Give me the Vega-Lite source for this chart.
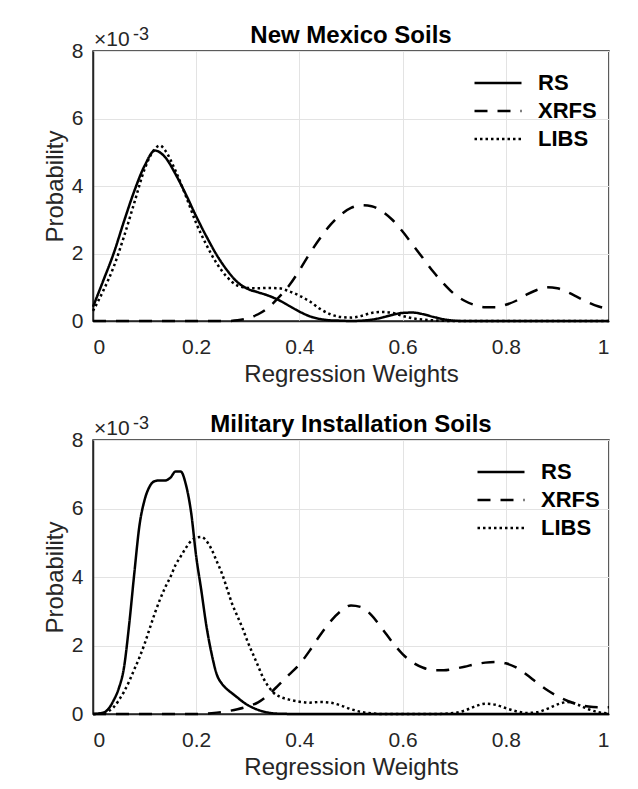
{
  "$schema": "https://vega.github.io/schema/vega-lite/v6.json",
  "background": "white",
  "padding": {"left": 42, "top": 23, "right": 6, "bottom": 4},
  "spacing": 25,
  "config": {
    "font": "Liberation Sans",
    "view": {"stroke": "#262626", "strokeWidth": 1.5},
    "axis": {
      "grid": true,
      "gridColor": "#e3e3e3",
      "gridWidth": 1,
      "ticks": false,
      "domainColor": "#262626",
      "domainWidth": 1.5,
      "labelColor": "#262626",
      "labelFontSize": 21,
      "labelFont": "Liberation Sans",
      "titleColor": "#262626",
      "titleFontSize": 24,
      "titleFontWeight": "normal",
      "titleFont": "Liberation Sans"
    },
    "axisX": {"labelPadding": 15, "titlePadding": 5},
    "axisY": {"labelPadding": 10, "titlePadding": 4},
    "title": {"fontSize": 24, "fontWeight": "bold", "color": "#000000", "frame": "group", "offset": -22, "anchor": "middle"},
    "legend": {
      "orient": "none",
      "title": null,
      "symbolType": "stroke",
      "symbolSize": 2209,
      "symbolStrokeWidth": 2.5,
      "symbolStrokeColor": "#000000",
      "labelFontSize": 22,
      "labelFontWeight": "bold",
      "labelColor": "#000000",
      "labelOffset": 15,
      "clipHeight": 28,
      "rowPadding": 0
    }
  },
  "vconcat": [
    {
      "title": "New Mexico Soils",
      "width": 516,
      "height": 270,
      "layer": [
        {
          "data": {"values": [
            {"w": 0, "p": 0.42, "method": "RS"}, {"w": 0.02, "p": 1.2, "method": "RS"}, {"w": 0.04, "p": 2.0, "method": "RS"},
            {"w": 0.06, "p": 2.95, "method": "RS"}, {"w": 0.08, "p": 3.85, "method": "RS"}, {"w": 0.1, "p": 4.6, "method": "RS"},
            {"w": 0.12, "p": 5.05, "method": "RS"}, {"w": 0.14, "p": 4.85, "method": "RS"}, {"w": 0.16, "p": 4.35, "method": "RS"},
            {"w": 0.18, "p": 3.75, "method": "RS"}, {"w": 0.2, "p": 3.1, "method": "RS"}, {"w": 0.22, "p": 2.5, "method": "RS"},
            {"w": 0.24, "p": 1.95, "method": "RS"}, {"w": 0.26, "p": 1.5, "method": "RS"}, {"w": 0.28, "p": 1.15, "method": "RS"},
            {"w": 0.3, "p": 0.95, "method": "RS"}, {"w": 0.32, "p": 0.85, "method": "RS"}, {"w": 0.34, "p": 0.75, "method": "RS"},
            {"w": 0.36, "p": 0.62, "method": "RS"}, {"w": 0.38, "p": 0.45, "method": "RS"}, {"w": 0.4, "p": 0.28, "method": "RS"},
            {"w": 0.42, "p": 0.14, "method": "RS"}, {"w": 0.44, "p": 0.06, "method": "RS"}, {"w": 0.46, "p": 0.02, "method": "RS"},
            {"w": 0.48, "p": 0.01, "method": "RS"}, {"w": 0.5, "p": 0.0, "method": "RS"}, {"w": 0.52, "p": 0.01, "method": "RS"},
            {"w": 0.54, "p": 0.04, "method": "RS"}, {"w": 0.56, "p": 0.1, "method": "RS"}, {"w": 0.58, "p": 0.18, "method": "RS"},
            {"w": 0.6, "p": 0.24, "method": "RS"}, {"w": 0.62, "p": 0.25, "method": "RS"}, {"w": 0.64, "p": 0.2, "method": "RS"},
            {"w": 0.66, "p": 0.12, "method": "RS"}, {"w": 0.68, "p": 0.05, "method": "RS"}, {"w": 0.7, "p": 0.01, "method": "RS"},
            {"w": 0.72, "p": 0, "method": "RS"}, {"w": 0.8, "p": 0, "method": "RS"}, {"w": 0.9, "p": 0, "method": "RS"}, {"w": 1, "p": 0, "method": "RS"},

            {"w": 0, "p": 0, "method": "XRFS"}, {"w": 0.1, "p": 0, "method": "XRFS"}, {"w": 0.2, "p": 0, "method": "XRFS"},
            {"w": 0.26, "p": 0, "method": "XRFS"}, {"w": 0.28, "p": 0.02, "method": "XRFS"}, {"w": 0.3, "p": 0.08, "method": "XRFS"},
            {"w": 0.32, "p": 0.2, "method": "XRFS"}, {"w": 0.34, "p": 0.4, "method": "XRFS"}, {"w": 0.36, "p": 0.7, "method": "XRFS"},
            {"w": 0.38, "p": 1.05, "method": "XRFS"}, {"w": 0.4, "p": 1.5, "method": "XRFS"}, {"w": 0.42, "p": 2.0, "method": "XRFS"},
            {"w": 0.44, "p": 2.45, "method": "XRFS"}, {"w": 0.46, "p": 2.85, "method": "XRFS"}, {"w": 0.48, "p": 3.15, "method": "XRFS"},
            {"w": 0.5, "p": 3.35, "method": "XRFS"}, {"w": 0.52, "p": 3.43, "method": "XRFS"}, {"w": 0.54, "p": 3.4, "method": "XRFS"},
            {"w": 0.56, "p": 3.25, "method": "XRFS"}, {"w": 0.58, "p": 3.0, "method": "XRFS"}, {"w": 0.6, "p": 2.65, "method": "XRFS"},
            {"w": 0.62, "p": 2.25, "method": "XRFS"}, {"w": 0.64, "p": 1.85, "method": "XRFS"}, {"w": 0.66, "p": 1.45, "method": "XRFS"},
            {"w": 0.68, "p": 1.1, "method": "XRFS"}, {"w": 0.7, "p": 0.8, "method": "XRFS"}, {"w": 0.72, "p": 0.6, "method": "XRFS"},
            {"w": 0.74, "p": 0.47, "method": "XRFS"}, {"w": 0.76, "p": 0.41, "method": "XRFS"}, {"w": 0.78, "p": 0.41, "method": "XRFS"},
            {"w": 0.8, "p": 0.48, "method": "XRFS"}, {"w": 0.82, "p": 0.6, "method": "XRFS"}, {"w": 0.84, "p": 0.78, "method": "XRFS"},
            {"w": 0.86, "p": 0.92, "method": "XRFS"}, {"w": 0.88, "p": 1.0, "method": "XRFS"}, {"w": 0.9, "p": 0.97, "method": "XRFS"},
            {"w": 0.92, "p": 0.85, "method": "XRFS"}, {"w": 0.94, "p": 0.7, "method": "XRFS"}, {"w": 0.96, "p": 0.55, "method": "XRFS"},
            {"w": 0.98, "p": 0.43, "method": "XRFS"}, {"w": 1, "p": 0.35, "method": "XRFS"},

            {"w": 0, "p": 0.3, "method": "LIBS"}, {"w": 0.02, "p": 0.9, "method": "LIBS"}, {"w": 0.04, "p": 1.6, "method": "LIBS"},
            {"w": 0.06, "p": 2.5, "method": "LIBS"}, {"w": 0.08, "p": 3.5, "method": "LIBS"}, {"w": 0.1, "p": 4.5, "method": "LIBS"},
            {"w": 0.12, "p": 5.1, "method": "LIBS"}, {"w": 0.13, "p": 5.2, "method": "LIBS"}, {"w": 0.14, "p": 5.05, "method": "LIBS"},
            {"w": 0.16, "p": 4.45, "method": "LIBS"}, {"w": 0.18, "p": 3.7, "method": "LIBS"}, {"w": 0.2, "p": 2.9, "method": "LIBS"},
            {"w": 0.22, "p": 2.25, "method": "LIBS"}, {"w": 0.24, "p": 1.7, "method": "LIBS"}, {"w": 0.26, "p": 1.3, "method": "LIBS"},
            {"w": 0.28, "p": 1.05, "method": "LIBS"}, {"w": 0.3, "p": 0.98, "method": "LIBS"}, {"w": 0.32, "p": 0.97, "method": "LIBS"},
            {"w": 0.34, "p": 0.98, "method": "LIBS"}, {"w": 0.36, "p": 0.97, "method": "LIBS"}, {"w": 0.38, "p": 0.88, "method": "LIBS"},
            {"w": 0.4, "p": 0.75, "method": "LIBS"}, {"w": 0.42, "p": 0.58, "method": "LIBS"}, {"w": 0.44, "p": 0.36, "method": "LIBS"},
            {"w": 0.46, "p": 0.2, "method": "LIBS"}, {"w": 0.48, "p": 0.12, "method": "LIBS"}, {"w": 0.5, "p": 0.1, "method": "LIBS"},
            {"w": 0.52, "p": 0.15, "method": "LIBS"}, {"w": 0.54, "p": 0.24, "method": "LIBS"}, {"w": 0.56, "p": 0.27, "method": "LIBS"},
            {"w": 0.58, "p": 0.24, "method": "LIBS"}, {"w": 0.6, "p": 0.15, "method": "LIBS"}, {"w": 0.62, "p": 0.08, "method": "LIBS"},
            {"w": 0.64, "p": 0.04, "method": "LIBS"}, {"w": 0.66, "p": 0.02, "method": "LIBS"}, {"w": 0.7, "p": 0, "method": "LIBS"},
            {"w": 0.8, "p": 0, "method": "LIBS"}, {"w": 0.9, "p": 0, "method": "LIBS"}, {"w": 1, "p": 0, "method": "LIBS"}
          ]},
          "mark": {"type": "line", "color": "#000000", "strokeWidth": 2.5, "interpolate": "monotone"},
          "encoding": {
            "x": {"field": "w", "type": "quantitative", "scale": {"domain": [0, 1], "nice": false},
                  "axis": {"title": "Regression Weights", "values": [0, 0.2, 0.4, 0.6, 0.8, 1], "format": "~g"}},
            "y": {"field": "p", "type": "quantitative", "scale": {"domain": [0, 8], "nice": false},
                  "axis": {"title": "Probability", "values": [0, 2, 4, 6, 8], "format": "~g"}},
            "strokeDash": {"field": "method", "type": "nominal",
                           "scale": {"domain": ["RS", "XRFS", "LIBS"], "range": [[1, 0], [13, 10], [2.5, 3]]},
                           "legend": {"legendX": 380, "legendY": 18}}
          }
        },
        {
          "data": {"values": [{"t": "×10"}]},
          "mark": {"type": "text", "align": "left", "baseline": "alphabetic", "fontSize": 21, "color": "#262626", "dx": 1, "dy": -5},
          "encoding": {"x": {"datum": 0}, "y": {"datum": 8}, "text": {"field": "t"}}
        },
        {
          "data": {"values": [{"t": "-3"}]},
          "mark": {"type": "text", "align": "left", "baseline": "alphabetic", "fontSize": 18, "color": "#262626", "dx": 40, "dy": -11},
          "encoding": {"x": {"datum": 0}, "y": {"datum": 8}, "text": {"field": "t"}}
        }
      ]
    },
    {
      "title": "Military Installation Soils",
      "width": 516,
      "height": 274,
      "layer": [
        {
          "data": {"values": [
            {"w": 0, "p": 0, "method": "RS"}, {"w": 0.01, "p": 0.01, "method": "RS"}, {"w": 0.02, "p": 0.04, "method": "RS"},
            {"w": 0.03, "p": 0.15, "method": "RS"}, {"w": 0.04, "p": 0.4, "method": "RS"}, {"w": 0.05, "p": 0.75, "method": "RS"},
            {"w": 0.06, "p": 1.35, "method": "RS"}, {"w": 0.07, "p": 2.6, "method": "RS"}, {"w": 0.08, "p": 4.1, "method": "RS"},
            {"w": 0.09, "p": 5.5, "method": "RS"}, {"w": 0.1, "p": 6.25, "method": "RS"}, {"w": 0.11, "p": 6.65, "method": "RS"},
            {"w": 0.12, "p": 6.8, "method": "RS"}, {"w": 0.13, "p": 6.82, "method": "RS"}, {"w": 0.14, "p": 6.82, "method": "RS"},
            {"w": 0.15, "p": 6.9, "method": "RS"}, {"w": 0.16, "p": 7.08, "method": "RS"}, {"w": 0.17, "p": 7.08, "method": "RS"},
            {"w": 0.18, "p": 6.7, "method": "RS"}, {"w": 0.19, "p": 5.9, "method": "RS"}, {"w": 0.2, "p": 4.6, "method": "RS"},
            {"w": 0.21, "p": 3.6, "method": "RS"}, {"w": 0.22, "p": 2.55, "method": "RS"}, {"w": 0.23, "p": 1.75, "method": "RS"},
            {"w": 0.24, "p": 1.15, "method": "RS"}, {"w": 0.25, "p": 0.88, "method": "RS"}, {"w": 0.26, "p": 0.72, "method": "RS"},
            {"w": 0.27, "p": 0.6, "method": "RS"}, {"w": 0.28, "p": 0.48, "method": "RS"}, {"w": 0.29, "p": 0.36, "method": "RS"},
            {"w": 0.3, "p": 0.26, "method": "RS"}, {"w": 0.32, "p": 0.12, "method": "RS"}, {"w": 0.34, "p": 0.04, "method": "RS"},
            {"w": 0.36, "p": 0.01, "method": "RS"}, {"w": 0.4, "p": 0, "method": "RS"}, {"w": 0.5, "p": 0, "method": "RS"},
            {"w": 0.6, "p": 0, "method": "RS"}, {"w": 0.7, "p": 0, "method": "RS"}, {"w": 0.8, "p": 0, "method": "RS"},
            {"w": 0.9, "p": 0, "method": "RS"}, {"w": 1, "p": 0, "method": "RS"},

            {"w": 0, "p": 0, "method": "XRFS"}, {"w": 0.1, "p": 0, "method": "XRFS"}, {"w": 0.2, "p": 0, "method": "XRFS"},
            {"w": 0.22, "p": 0.01, "method": "XRFS"}, {"w": 0.24, "p": 0.04, "method": "XRFS"}, {"w": 0.26, "p": 0.08, "method": "XRFS"},
            {"w": 0.28, "p": 0.14, "method": "XRFS"}, {"w": 0.3, "p": 0.22, "method": "XRFS"}, {"w": 0.32, "p": 0.34, "method": "XRFS"},
            {"w": 0.34, "p": 0.56, "method": "XRFS"}, {"w": 0.36, "p": 0.85, "method": "XRFS"}, {"w": 0.38, "p": 1.15, "method": "XRFS"},
            {"w": 0.4, "p": 1.45, "method": "XRFS"}, {"w": 0.42, "p": 1.85, "method": "XRFS"}, {"w": 0.44, "p": 2.3, "method": "XRFS"},
            {"w": 0.46, "p": 2.7, "method": "XRFS"}, {"w": 0.48, "p": 3.0, "method": "XRFS"}, {"w": 0.5, "p": 3.17, "method": "XRFS"},
            {"w": 0.52, "p": 3.12, "method": "XRFS"}, {"w": 0.54, "p": 2.88, "method": "XRFS"}, {"w": 0.56, "p": 2.5, "method": "XRFS"},
            {"w": 0.58, "p": 2.1, "method": "XRFS"}, {"w": 0.6, "p": 1.75, "method": "XRFS"}, {"w": 0.62, "p": 1.5, "method": "XRFS"},
            {"w": 0.64, "p": 1.35, "method": "XRFS"}, {"w": 0.66, "p": 1.28, "method": "XRFS"}, {"w": 0.68, "p": 1.28, "method": "XRFS"},
            {"w": 0.7, "p": 1.32, "method": "XRFS"}, {"w": 0.72, "p": 1.38, "method": "XRFS"}, {"w": 0.74, "p": 1.45, "method": "XRFS"},
            {"w": 0.76, "p": 1.5, "method": "XRFS"}, {"w": 0.78, "p": 1.52, "method": "XRFS"}, {"w": 0.8, "p": 1.48, "method": "XRFS"},
            {"w": 0.82, "p": 1.36, "method": "XRFS"}, {"w": 0.84, "p": 1.15, "method": "XRFS"}, {"w": 0.86, "p": 0.92, "method": "XRFS"},
            {"w": 0.88, "p": 0.7, "method": "XRFS"}, {"w": 0.9, "p": 0.52, "method": "XRFS"}, {"w": 0.92, "p": 0.38, "method": "XRFS"},
            {"w": 0.94, "p": 0.28, "method": "XRFS"}, {"w": 0.96, "p": 0.22, "method": "XRFS"}, {"w": 0.98, "p": 0.2, "method": "XRFS"},
            {"w": 1, "p": 0.2, "method": "XRFS"},

            {"w": 0, "p": 0, "method": "LIBS"}, {"w": 0.02, "p": 0.02, "method": "LIBS"}, {"w": 0.03, "p": 0.08, "method": "LIBS"},
            {"w": 0.04, "p": 0.2, "method": "LIBS"}, {"w": 0.05, "p": 0.4, "method": "LIBS"}, {"w": 0.06, "p": 0.65, "method": "LIBS"},
            {"w": 0.07, "p": 0.95, "method": "LIBS"}, {"w": 0.08, "p": 1.3, "method": "LIBS"}, {"w": 0.09, "p": 1.65, "method": "LIBS"},
            {"w": 0.1, "p": 2.05, "method": "LIBS"}, {"w": 0.11, "p": 2.5, "method": "LIBS"}, {"w": 0.12, "p": 2.95, "method": "LIBS"},
            {"w": 0.13, "p": 3.35, "method": "LIBS"}, {"w": 0.14, "p": 3.7, "method": "LIBS"}, {"w": 0.15, "p": 4.0, "method": "LIBS"},
            {"w": 0.16, "p": 4.35, "method": "LIBS"}, {"w": 0.17, "p": 4.6, "method": "LIBS"}, {"w": 0.18, "p": 4.85, "method": "LIBS"},
            {"w": 0.19, "p": 5.05, "method": "LIBS"}, {"w": 0.2, "p": 5.15, "method": "LIBS"}, {"w": 0.21, "p": 5.17, "method": "LIBS"},
            {"w": 0.22, "p": 5.05, "method": "LIBS"}, {"w": 0.23, "p": 4.8, "method": "LIBS"}, {"w": 0.24, "p": 4.45, "method": "LIBS"},
            {"w": 0.25, "p": 4.1, "method": "LIBS"}, {"w": 0.26, "p": 3.65, "method": "LIBS"}, {"w": 0.27, "p": 3.2, "method": "LIBS"},
            {"w": 0.28, "p": 2.85, "method": "LIBS"}, {"w": 0.29, "p": 2.5, "method": "LIBS"}, {"w": 0.3, "p": 2.1, "method": "LIBS"},
            {"w": 0.31, "p": 1.75, "method": "LIBS"}, {"w": 0.32, "p": 1.4, "method": "LIBS"}, {"w": 0.33, "p": 1.05, "method": "LIBS"},
            {"w": 0.34, "p": 0.8, "method": "LIBS"}, {"w": 0.35, "p": 0.62, "method": "LIBS"}, {"w": 0.36, "p": 0.52, "method": "LIBS"},
            {"w": 0.38, "p": 0.42, "method": "LIBS"}, {"w": 0.4, "p": 0.36, "method": "LIBS"}, {"w": 0.42, "p": 0.33, "method": "LIBS"},
            {"w": 0.44, "p": 0.35, "method": "LIBS"}, {"w": 0.46, "p": 0.33, "method": "LIBS"}, {"w": 0.48, "p": 0.25, "method": "LIBS"},
            {"w": 0.5, "p": 0.14, "method": "LIBS"}, {"w": 0.52, "p": 0.06, "method": "LIBS"}, {"w": 0.54, "p": 0.02, "method": "LIBS"},
            {"w": 0.56, "p": 0, "method": "LIBS"}, {"w": 0.6, "p": 0, "method": "LIBS"}, {"w": 0.66, "p": 0, "method": "LIBS"},
            {"w": 0.7, "p": 0.03, "method": "LIBS"}, {"w": 0.72, "p": 0.1, "method": "LIBS"}, {"w": 0.74, "p": 0.22, "method": "LIBS"},
            {"w": 0.76, "p": 0.3, "method": "LIBS"}, {"w": 0.78, "p": 0.27, "method": "LIBS"}, {"w": 0.8, "p": 0.17, "method": "LIBS"},
            {"w": 0.82, "p": 0.08, "method": "LIBS"}, {"w": 0.84, "p": 0.03, "method": "LIBS"}, {"w": 0.86, "p": 0.05, "method": "LIBS"},
            {"w": 0.88, "p": 0.15, "method": "LIBS"}, {"w": 0.9, "p": 0.28, "method": "LIBS"}, {"w": 0.92, "p": 0.35, "method": "LIBS"},
            {"w": 0.94, "p": 0.27, "method": "LIBS"}, {"w": 0.96, "p": 0.14, "method": "LIBS"}, {"w": 0.98, "p": 0.05, "method": "LIBS"},
            {"w": 1, "p": 0.02, "method": "LIBS"}
          ]},
          "mark": {"type": "line", "color": "#000000", "strokeWidth": 2.5, "interpolate": "monotone"},
          "encoding": {
            "x": {"field": "w", "type": "quantitative", "scale": {"domain": [0, 1], "nice": false},
                  "axis": {"title": "Regression Weights", "values": [0, 0.2, 0.4, 0.6, 0.8, 1], "format": "~g"}},
            "y": {"field": "p", "type": "quantitative", "scale": {"domain": [0, 8], "nice": false},
                  "axis": {"title": "Probability", "values": [0, 2, 4, 6, 8], "format": "~g"}},
            "strokeDash": {"field": "method", "type": "nominal",
                           "scale": {"domain": ["RS", "XRFS", "LIBS"], "range": [[1, 0], [13, 10], [2.5, 3]]},
                           "legend": {"legendX": 383, "legendY": 18}}
          }
        },
        {
          "data": {"values": [{"t": "×10"}]},
          "mark": {"type": "text", "align": "left", "baseline": "alphabetic", "fontSize": 21, "color": "#262626", "dx": 1, "dy": -5},
          "encoding": {"x": {"datum": 0}, "y": {"datum": 8}, "text": {"field": "t"}}
        },
        {
          "data": {"values": [{"t": "-3"}]},
          "mark": {"type": "text", "align": "left", "baseline": "alphabetic", "fontSize": 18, "color": "#262626", "dx": 40, "dy": -11},
          "encoding": {"x": {"datum": 0}, "y": {"datum": 8}, "text": {"field": "t"}}
        }
      ]
    }
  ],
  "resolve": {"scale": {"strokeDash": "independent"}, "legend": {"strokeDash": "independent"}}
}
